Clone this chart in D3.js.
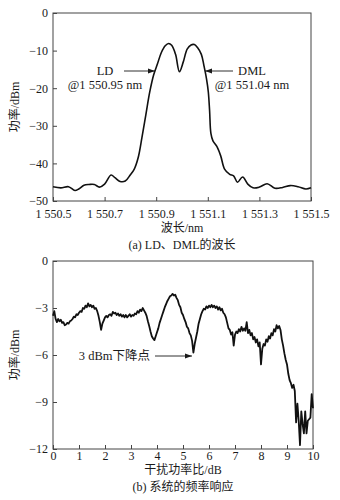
<!DOCTYPE html>
<html>
<head>
<meta charset="utf-8">
<script src="https://cdn.jsdelivr.net/npm/d3@7"></script>
<style>
  body { margin: 0; background: #fff; }
  svg { display: block; }
  text { font-family: "Liberation Serif", "Noto Sans CJK SC", serif; fill: #1a1a1a; }
</style>
</head>
<body>
<div id="chart"></div>
<script>
// (a) spectrum of LD and DML
const specWl = [1550.50, 1550.53, 1550.56, 1550.585, 1550.60, 1550.62, 1550.64, 1550.66, 1550.68, 1550.70,
  1550.725, 1550.74, 1550.76, 1550.78, 1550.80, 1550.815, 1550.83, 1550.845, 1550.86, 1550.875,
  1550.89, 1550.905, 1550.92, 1550.935, 1550.948, 1550.96, 1550.975, 1550.99, 1551.005, 1551.02,
  1551.035, 1551.048, 1551.06, 1551.075, 1551.085, 1551.095, 1551.102, 1551.107, 1551.112, 1551.12,
  1551.135, 1551.15, 1551.165, 1551.185, 1551.20, 1551.215, 1551.235, 1551.255, 1551.275, 1551.30,
  1551.33, 1551.36, 1551.39, 1551.42, 1551.45, 1551.48, 1551.50];
const specDbm = [-46.2, -46.5, -46.2, -47.2, -46.8, -45.8, -45.6, -45.6, -46.3, -45.5,
  -43.1, -43.8, -44.8, -44.7, -43.0, -41.5, -38.5, -33, -27, -21,
  -16.5, -13.5, -10.5, -8.7, -8.1, -8.6, -11, -15.6, -13, -9.6,
  -8.5, -8.4, -9.2, -11, -14, -17.5, -21, -26, -32, -34,
  -35.5, -38, -41.5, -42.9, -43.3, -45, -43.6, -45.5, -46.5, -46.3,
  -45.4, -46.6, -46.4, -45.9, -46.2, -46.8, -46.5];
const specXTicks = [1550.5, 1550.7, 1550.9, 1551.1, 1551.3, 1551.5];
const specYTicks = [0, -10, -20, -30, -40, -50];

// (b) frequency response, sampled every 0.05 dB of interference ratio
const respStep = 0.05;
const respDbm = [
  -3.5, -3.2, -3.7, -3.9, -3.7, -3.85, -3.75, -3.95, -3.9, -4.1, -4.05, -3.95, -4.0, -3.85, -3.8, -3.7, -3.55, -3.6, -3.4, -3.45,
  -3.3, -3.2, -3.25, -3.0, -3.05, -2.85, -2.95, -2.7, -2.9, -2.8, -2.95, -2.85, -3.05, -3.0, -3.2, -3.5, -3.9, -4.4, -4.0, -3.8,
  -3.6, -3.5, -3.6, -3.45, -3.4, -3.5, -3.25, -3.35, -3.3, -3.45, -3.35, -3.5, -3.4, -3.55, -3.45, -3.6, -3.45, -3.6, -3.5, -3.4,
  -3.55, -3.45, -3.5, -3.35, -3.4, -3.2, -3.3, -3.1, -3.2, -3.0, -3.15, -3.3, -3.5, -3.85, -4.15, -4.5, -4.8, -4.95, -5.05, -4.8,
  -4.55, -4.3, -3.95, -3.7, -3.45, -3.2, -2.95, -2.75, -2.55, -2.4, -2.25, -2.2, -2.1, -2.2, -2.15, -2.35, -2.5, -2.8, -2.95, -3.3,
  -3.45, -3.7, -3.9, -4.2, -4.3, -4.6, -4.75, -5.1, -5.85, -5.3, -4.9, -4.5, -4.0, -3.7, -3.4, -3.2, -3.05, -3.1, -2.9, -3.0,
  -2.85, -2.95, -2.8, -2.95, -2.85, -3.0, -2.9, -3.1, -2.95, -3.15, -3.05, -3.3, -3.4, -3.6, -3.95, -4.3, -4.4, -4.7, -4.55, -5.4,
  -4.7, -4.5, -4.6, -4.35, -4.5, -4.2, -4.45, -4.3, -4.45, -3.9, -4.6, -4.4, -4.75, -4.6, -5.0, -4.85, -5.2, -5.0, -5.45, -5.2,
  -6.6, -5.6, -5.3, -5.4, -5.0, -5.15, -4.8, -4.95, -4.6, -4.75, -4.35, -4.5, -4.1, -4.3, -4.15, -4.4, -5.0, -5.4, -5.9, -6.3,
  -6.6, -7.2, -7.6, -7.8, -8.1, -7.9, -8.3, -10.3, -9.1, -10.2, -11.75, -9.6, -10.4, -11.0, -9.6, -11.0, -10.2, -10.1, -10.0, -8.5,
  -9.4];
const respXTicks = [0, 1, 2, 3, 4, 5, 6, 7, 8, 9, 10];
const respYTicks = [0, -3, -6, -9, -12];

const width = 340, height = 500;
const svg = d3.select("#chart").append("svg")
  .attr("width", width).attr("height", height);

const defs = svg.append("defs");
defs.append("marker")
  .attr("id", "arrow")
  .attr("viewBox", "0 0 10 10")
  .attr("refX", 10).attr("refY", 5)
  .attr("markerWidth", 7).attr("markerHeight", 7)
  .attr("markerUnits", "userSpaceOnUse")
  .attr("orient", "auto")
  .append("path").attr("d", "M0,1.5 L10,5 L0,8.5 Z").attr("fill", "#1a1a1a");

function frame(x, y) {
  svg.append("rect")
    .attr("x", x.range()[0]).attr("y", y.range()[1])
    .attr("width", x.range()[1] - x.range()[0])
    .attr("height", y.range()[0] - y.range()[1])
    .attr("fill", "none").attr("stroke", "#444").attr("stroke-width", 1);
}

function axes(x, y, xTicks, yTicks, xFmt, yFmt, xPad) {
  const gx = svg.append("g")
    .attr("transform", `translate(0,${y.range()[0]})`)
    .call(d3.axisBottom(x).tickValues(xTicks).tickFormat(xFmt).tickSize(-4).tickPadding(xPad));
  const gy = svg.append("g")
    .attr("transform", `translate(${x.range()[0]},0)`)
    .call(d3.axisLeft(y).tickValues(yTicks).tickFormat(yFmt).tickSize(-4).tickPadding(5));
  [gx, gy].forEach(g => {
    g.select(".domain").remove();
    g.selectAll("line").attr("stroke", "#444");
    g.selectAll("text").attr("font-size", 12).attr("fill", "#1a1a1a")
      .style("font-family", "'Liberation Serif', serif");
  });
}

const minus = d => (d < 0 ? "\u2212" : "") + Math.abs(d);

// ---------- chart (a) ----------
const xa = d3.scaleLinear().domain([1550.5, 1551.5]).range([53, 311]);
const ya = d3.scaleLinear().domain([-50, 0]).range([201, 13]);

frame(xa, ya);
axes(xa, ya, specXTicks, specYTicks,
  d => { const s = d3.format(".1f")(d); return s[0] + " " + s.slice(1); },
  minus, 8);

const spec = specWl.map((w, i) => [w, specDbm[i]]);
svg.append("path")
  .datum(spec)
  .attr("fill", "none").attr("stroke", "#111").attr("stroke-width", 1.6)
  .attr("d", d3.line().x(d => xa(d[0])).y(d => ya(d[1])).curve(d3.curveCatmullRom.alpha(0.5)));

// annotations
svg.append("line").attr("x1", 124).attr("y1", 71).attr("x2", 155).attr("y2", 71)
  .attr("stroke", "#1a1a1a").attr("stroke-width", 0.9).attr("marker-end", "url(#arrow)");
svg.append("line").attr("x1", 233).attr("y1", 71).attr("x2", 205).attr("y2", 71)
  .attr("stroke", "#1a1a1a").attr("stroke-width", 0.9).attr("marker-end", "url(#arrow)");
svg.append("text").attr("x", 105).attr("y", 75).attr("text-anchor", "middle").attr("font-size", 12.5).text("LD");
svg.append("text").attr("x", 105).attr("y", 89).attr("text-anchor", "middle").attr("font-size", 12.5).text("@1 550.95 nm");
svg.append("text").attr("x", 252).attr("y", 75).attr("text-anchor", "middle").attr("font-size", 12.5).text("DML");
svg.append("text").attr("x", 252).attr("y", 89).attr("text-anchor", "middle").attr("font-size", 12.5).text("@1 551.04 nm");

svg.append("text").attr("transform", "translate(19,107) rotate(-90)")
  .attr("text-anchor", "middle").attr("font-size", 12).text("功率/dBm");
svg.append("text").attr("x", 182).attr("y", 232).attr("text-anchor", "middle").attr("font-size", 12).text("波长/nm");
svg.append("text").attr("x", 182).attr("y", 249).attr("text-anchor", "middle").attr("font-size", 12).text("(a) LD、DML的波长");

// ---------- chart (b) ----------
const xb = d3.scaleLinear().domain([0, 10]).range([53, 313]);
const yb = d3.scaleLinear().domain([-12, 0]).range([449, 261]);

frame(xb, yb);
axes(xb, yb, respXTicks, respYTicks, d => d, minus, 2);

const resp = respDbm.map((v, i) => [i * respStep, v]);
svg.append("path")
  .datum(resp)
  .attr("fill", "none").attr("stroke", "#111").attr("stroke-width", 1.8)
  .attr("stroke-linejoin", "round")
  .attr("d", d3.line().x(d => xb(d[0])).y(d => yb(d[1])));

svg.append("line").attr("x1", 155).attr("y1", 356).attr("x2", 192).attr("y2", 356)
  .attr("stroke", "#1a1a1a").attr("stroke-width", 0.9).attr("marker-end", "url(#arrow)");
svg.append("text").attr("x", 150).attr("y", 360).attr("text-anchor", "end").attr("font-size", 12.5).text("3 dBm下降点");

svg.append("text").attr("transform", "translate(19,355) rotate(-90)")
  .attr("text-anchor", "middle").attr("font-size", 12).text("功率/dBm");
svg.append("text").attr("x", 183).attr("y", 474).attr("text-anchor", "middle").attr("font-size", 12).text("干扰功率比/dB");
svg.append("text").attr("x", 183).attr("y", 491).attr("text-anchor", "middle").attr("font-size", 12).text("(b) 系统的频率响应");
</script>
</body>
</html>
